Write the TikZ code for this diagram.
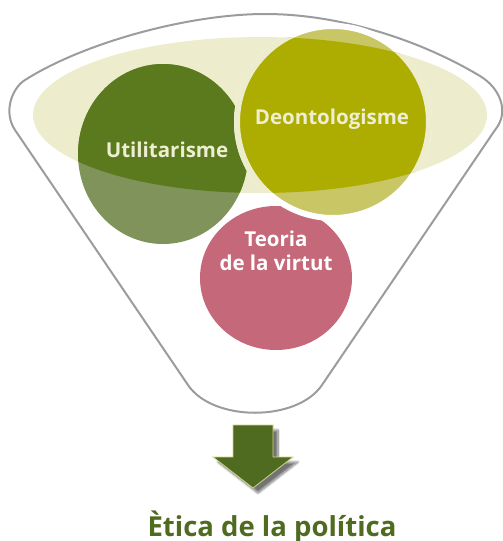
\documentclass[tikz,border=0pt]{standalone}
\usepackage{fontspec}
\setmainfont{Open Sans}
\usetikzlibrary{shadows.blur}

\definecolor{vora}{HTML}{9C9C9C}
\definecolor{embut}{HTML}{EDEDCD}
\definecolor{utilfosc}{HTML}{5B7A1D}
\definecolor{utilclar}{HTML}{80935A}
\definecolor{deonfosc}{HTML}{ADAC00}
\definecolor{deonclar}{HTML}{C9C665}
\definecolor{virtut}{HTML}{C4687A}
\definecolor{crema}{HTML}{EEEED2}
\definecolor{verd}{HTML}{4E6B1F}
\definecolor{voraverd}{HTML}{D2D28C}

\begin{document}
\begin{tikzpicture}[x=1pt,y=-1pt,
		etiqueta/.style={font=\bfseries\fontsize{20.5}{24}\selectfont, anchor=base, align=center}]
	\useasboundingbox (0,0) rectangle (503,541);

	% embut
	\draw [line width=2pt, color=vora] (15,130) .. controls (3,112) and (12,88) .. (25,80)
		.. controls (85,42) and (190,14) .. (265,14)
		.. controls (340,14) and (420,40) .. (480,76)
		.. controls (500,88) and (510,112) .. (495,130)
		-- (322,385) .. controls (297,422) and (213,422) .. (188,385) -- cycle;

	% el·lipse
	\fill [embut] (260,115) ellipse [x radius=227, y radius=78];

	% utilitarisme
	\fill [utilclar] (163,154) ellipse [x radius=85, y radius=90];
	\begin{scope}
		\clip (260,115) ellipse [x radius=227, y radius=78];
		\fill [utilfosc] (163,154) ellipse [x radius=85, y radius=90];
	\end{scope}

	% teoria de la virtut
	\fill [virtut] (276,278) ellipse [x radius=76, y radius=72];

	% deontologisme
	\filldraw [line width=6pt, draw=white, fill=deonclar] (333,122) circle [radius=96];
	\begin{scope}
		\clip (260,115) ellipse [x radius=227, y radius=78];
		\filldraw [line width=6pt, draw=embut, fill=deonfosc] (333,122) circle [radius=96];
	\end{scope}

	% etiquetes
	\node [etiqueta, text=crema] (util) at (167,157) {Utilitarisme};
	\node [etiqueta, text=crema] (deon) at (332,124) {Deontologisme};
	\node [etiqueta, text=white] (virt) at (276,270) {Teoria\\de la virtut};

	% fletxa
	\draw [line width=0.8pt, draw=voraverd, fill=verd,
		blur shadow={shadow xshift=5pt, shadow yshift=-5pt, shadow blur steps=10, shadow opacity=55}]
		(233,425) -- (273,425) -- (273,457) -- (293,457) -- (253,488) -- (213,457) -- (233,457) -- cycle;

	% resultat
	\node [etiqueta, text=verd, font=\bfseries\fontsize{27.5}{30}\selectfont] (etica) at (272,536) {Ètica de la política};
\end{tikzpicture}
\end{document}
